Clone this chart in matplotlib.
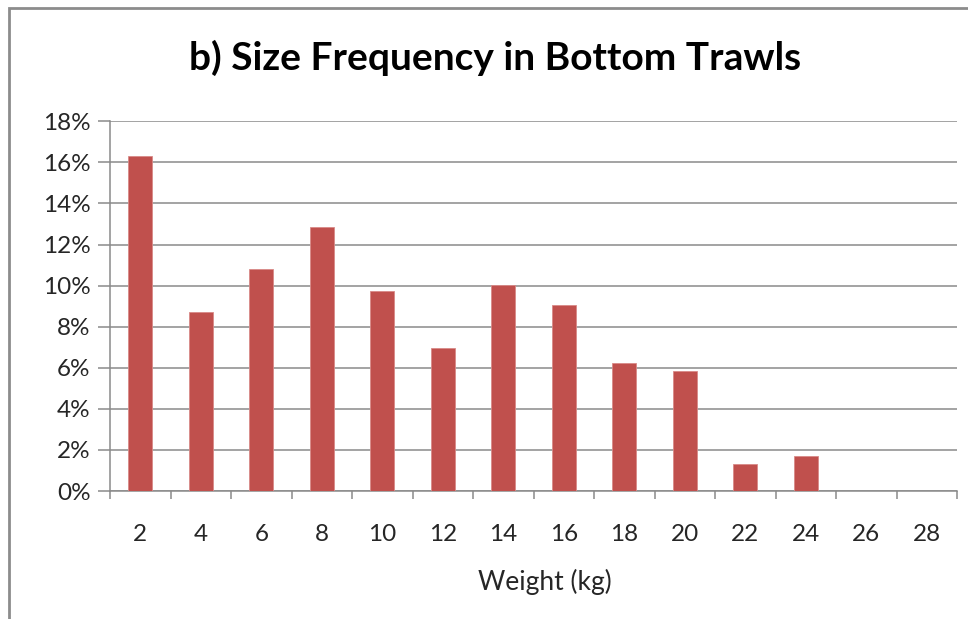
import matplotlib
matplotlib.use("Agg")
import matplotlib.pyplot as plt
from matplotlib.patches import Rectangle
from matplotlib.ticker import FuncFormatter, MultipleLocator
import numpy as np

weights = ["2", "4", "6", "8", "10", "12", "14", "16", "18", "20", "22", "24", "26", "28"]
freq = [16.3, 8.7, 10.8, 12.85, 9.75, 6.95, 10.05, 9.05, 6.25, 5.85, 1.3, 1.7, 0.0, 0.0]
title = "b) Size Frequency in Bottom Trawls"
xlabel = "Weight (kg)"

plt.rcParams['font.family'] = ['Lato', 'DejaVu Sans']

W, H = 968, 619
fig = plt.figure(figsize=(W / 100, H / 100), dpi=100)
fig.patch.set_facecolor("white")

# chart border (extends beyond the image on right / bottom)
fig.patches.append(Rectangle((9 / W, -0.1), 1.2, 1 - 8 / H + 0.1, transform=fig.transFigure,
                             fill=False, edgecolor="#8c8c8c", linewidth=2, clip_on=False))

ax = fig.add_axes([110 / W, 1 - 491 / H, (957 - 110) / W, (491 - 121.3) / H])
x = np.arange(len(weights))
ax.bar(x, freq, width=0.4, color="#C0504D", edgecolor="#d98a88", linewidth=0.6, zorder=3)

ax.set_xlim(-0.5, len(weights) - 0.5)
ax.set_ylim(0, 18)
ax.yaxis.set_major_locator(MultipleLocator(2))
ax.yaxis.set_major_formatter(FuncFormatter(lambda v, p: f"{int(round(v))}%"))
ax.grid(axis="y", color="#8a8a8a", linewidth=1.1, zorder=0)

ax.set_xticks(x)
ax.set_xticklabels(weights)
ax.set_xticks(np.arange(-0.5, len(weights), 1.0), minor=True)
ax.tick_params(axis="x", which="major", length=0, pad=24, labelsize=17.5, labelcolor="#262626")
ax.tick_params(axis="x", which="minor", length=6, color="#8a8a8a", width=1.1)
ax.tick_params(axis="y", length=9, color="#8a8a8a", width=1.1, pad=5, labelsize=17.5, labelcolor="#262626")

for s in ["top", "right"]:
    ax.spines[s].set_visible(False)
for s in ["left", "bottom"]:
    ax.spines[s].set_color("#8a8a8a")
    ax.spines[s].set_linewidth(1.1)

fig.text(495 / W, 1 - 58 / H, title, ha="center", va="center", fontsize=28, fontweight="bold", color="black")
fig.text(545 / W, 1 - 582 / H, xlabel, ha="center", va="center", fontsize=19, color="#262626")

fig.savefig("out.png", dpi=100, facecolor="white")
